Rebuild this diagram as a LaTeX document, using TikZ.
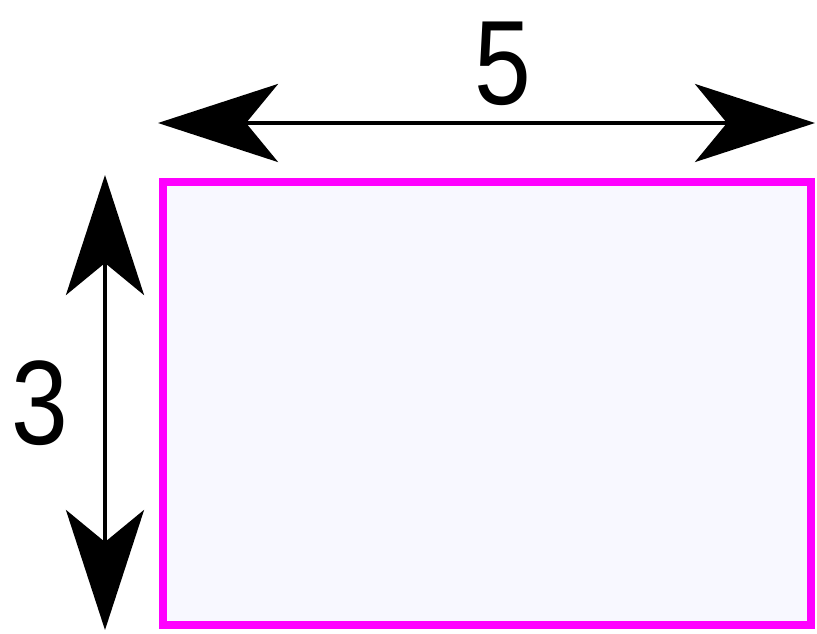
\documentclass[tikz,border=0pt]{standalone}
\usepackage{fontspec}
\setmainfont{Liberation Sans}
\usetikzlibrary{arrows.meta,positioning}
\definecolor{lav}{RGB}{248,248,255}
\definecolor{mag}{RGB}{255,0,255}

\begin{document}
\begin{tikzpicture}[x=1pt,y=-1pt]%
\useasboundingbox (0,0) rectangle (817,633);
\tikzstyle{dim}=[line width=4pt,{Stealth[length=120pt,width=78pt,inset=32pt]}-{Stealth[length=120pt,width=78pt,inset=32pt]}] %%
\tikzstyle{lbl}=[inner sep=0pt,xscale=.85,font=\fontsize{120}{120}\selectfont] %%
\node[draw=mag,fill=lav,line width=8pt,minimum width=648pt,minimum height=443pt,inner sep=0pt] (box) at (487,403.5) {}; %%
\coordinate (h1) at (158,123); %%
\coordinate (h2) at (815,123); %%
\coordinate (v1) at (105,175); %%
\coordinate (v2) at (105,630); %%
\node[lbl] (five) at (503,64) {5}; %%
\node[lbl] (three) at (40,403) {3}; %%
\draw[dim] (h1)--(h2); %%
\draw[dim] (v1)--(v2); %%
\end{tikzpicture}
\end{document}
